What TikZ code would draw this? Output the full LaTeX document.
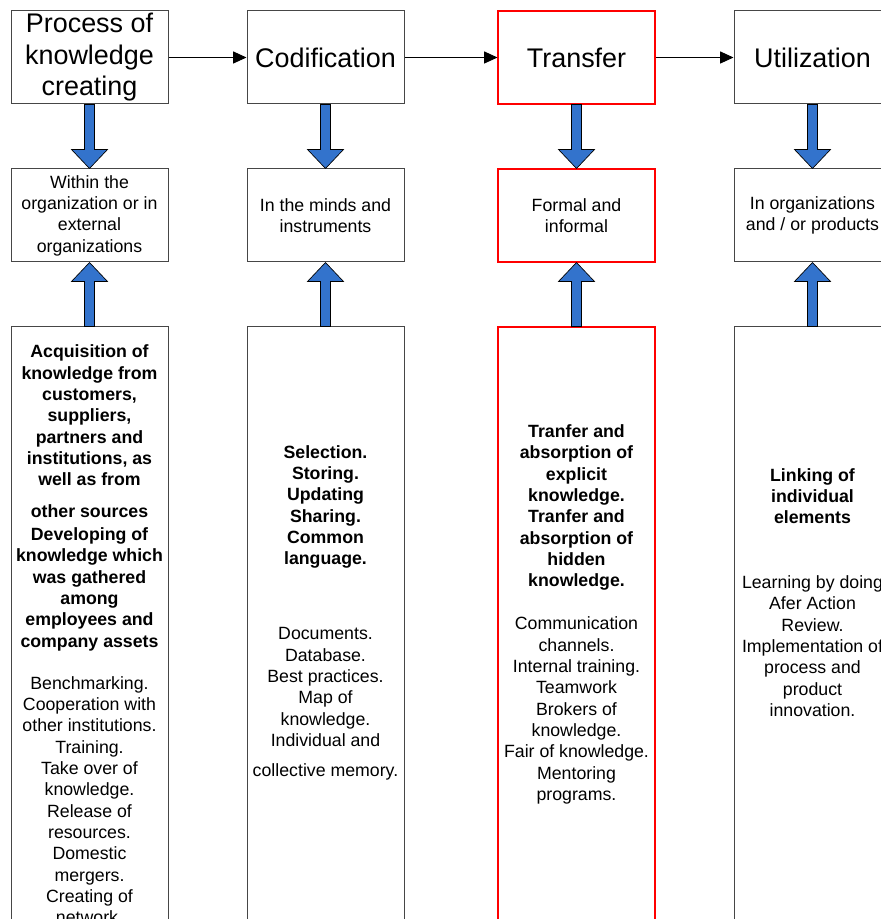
\documentclass[tikz,border=0pt]{standalone}
\usepackage{fontspec}
\setmainfont{Liberation Sans}
\usetikzlibrary{arrows.meta, positioning, calc}
\definecolor{arrowblue}{RGB}{51, 115, 204}
\definecolor{edgegray}{RGB}{70, 70, 70}
% wide blue arrow from one box border to another
\newcommand{\blockarrow}[2]{%
  \draw[bigarr] ($(#1)+(-5,0)$) -- ($(#2)!14.25pt!(#1)+(-5,0)$)
    -- ($(#2)!14.25pt!(#1)+(-18,0)$) -- (#2)
    -- ($(#2)!14.25pt!(#1)+(18,0)$) -- ($(#2)!14.25pt!(#1)+(5,0)$)
    -- ($(#1)+(5,0)$) -- cycle;}

\begin{document}
\begin{tikzpicture}[
          x=0.75pt, y=-0.75pt,
          node distance=48pt,
          stage/.style={draw=edgegray, line width=0.75pt, fill=white, minimum width=117.75pt,
                        minimum height=69.75pt, inner sep=0pt, outer sep=0.375pt, align=center,
                        font=\fontsize{20.2}{23.6}\selectfont},
          locbox/.style={stage, font=\fontsize{13.3}{16}\selectfont},
          detailbox/.style={stage, minimum height=505pt},
          hl/.style={draw=red, line width=1.5pt, outer sep=0.375pt},
          boldtxt/.style={align=center, inner sep=0pt, font=\fontsize{13.3}{16}\selectfont\bfseries},
          plaintxt/.style={align=center, inner sep=0pt, font=\fontsize{13.3}{16}\selectfont},
          flow/.style={-{Triangle[length=10pt, width=9pt]}, line width=0.75pt},
          bigarr/.style={draw=black, line width=0.5pt, fill=arrowblue, line join=miter},
        ]
        \useasboundingbox (0,0) rectangle (880,919);
        % stages
        \node[stage] (create) at (89.5,57.5) {Process of\\knowledge\\creating};
        \node[stage] (codify) at (325.5,57.5) {Codification};
        \node[stage, hl] (transfer) at (576.5,57.5) {Transfer};
        \node[stage] (use) at (812.5,57.5) {Utilization};
        % where it happens
        \node[locbox, below=of create] (within) {Within the\\organization or in\\external\\organizations};
        \node[locbox, below=of codify] (minds) {In the minds and\\instruments};
        \node[locbox, hl, below=of transfer] (formal) {Formal and\\informal};
        \node[locbox, below=of use] (inorg) {In organizations\\and / or products};
        % details
        \node[detailbox, below=of within] (acq) {};
        \node[detailbox, below=of minds] (sel) {};
        \node[detailbox, hl, below=of formal] (absorb) {};
        \node[detailbox, below=of inorg] (link) {};
        \node[boldtxt] (acqbold) at (89.5,498) {Acquisition of\\knowledge from\\customers,\\suppliers,\\partners and\\institutions, as\\well as from\\[7.5pt]
          other sources\\[1.5pt]Developing of\\knowledge which\\was gathered\\among\\employees and\\company assets};
        \node[plaintxt] (acqplain) at (89.5,800) {Benchmarking.\\Cooperation with\\other institutions.\\Training.\\Take over of\\knowledge.\\Release of\\resources.\\Domestic\\mergers.\\Creating of\\network.};
        \node[boldtxt] (selbold) at (325.5,507) {Selection.\\Storing.\\Updating\\Sharing.\\Common\\language.};
        \node[plaintxt] (selplain) at (325.5,704) {Documents.\\Database.\\Best practices.\\Map of\\knowledge.\\Individual and\\[6.5pt]collective memory.};
        \node[boldtxt] (absbold) at (576.5,507.5) {Tranfer and\\absorption of\\explicit\\knowledge.\\Tranfer and\\absorption of\\hidden\\knowledge.};
        \node[plaintxt] (absplain) at (576.5,710.5) {Communication\\channels.\\Internal training.\\Teamwork\\Brokers of\\knowledge.\\Fair of knowledge.\\Mentoring\\programs.};
        \node[boldtxt] (linkbold) at (812.5,496) {Linking of\\individual\\elements};
        \node[plaintxt] (linkplain) at (812.5,646) {Learning by doing\\Afer Action\\Review.\\Implementation of\\process and\\product\\innovation.};
        % flow between stages
        \draw[flow] (create) -- (codify);
        \draw[flow] (codify) -- (transfer);
        \draw[flow] (transfer) -- (use);
        % blue arrows
        \blockarrow{create.south}{within.north}
        \blockarrow{codify.south}{minds.north}
        \blockarrow{transfer.south}{formal.north}
        \blockarrow{use.south}{inorg.north}
        \blockarrow{acq.north}{within.south}
        \blockarrow{sel.north}{minds.south}
        \blockarrow{absorb.north}{formal.south}
        \blockarrow{link.north}{inorg.south}
      \end{tikzpicture}
\end{document}
